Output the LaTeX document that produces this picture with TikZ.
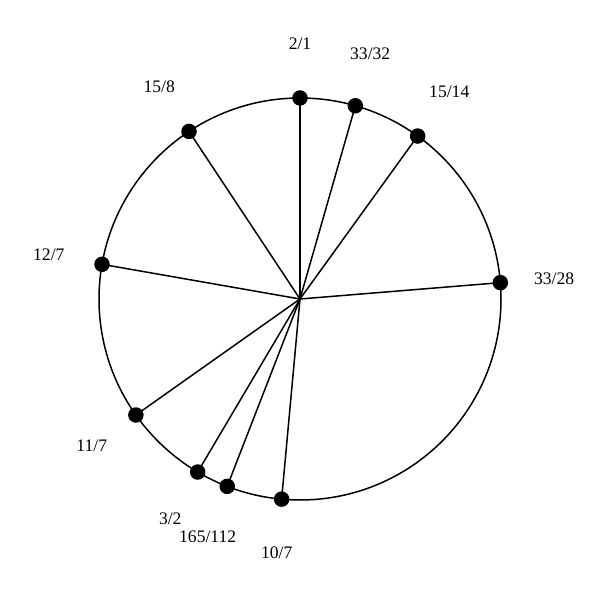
\documentclass[tikz,border=0pt]{standalone}
\usepackage{fontspec}
\setmainfont{Liberation Serif}
\usetikzlibrary{calc}
\begin{document}
\begin{tikzpicture}[x=1pt,y=1pt,
  spoke/.style={line width=1.5pt},
  dot/.style={circle,fill=black,inner sep=0pt,minimum size=15.5pt},
  lbl/.style={font=\fontsize{17.6}{20}\selectfont,anchor=center}]
\useasboundingbox (0,0) rectangle (600,600);
\coordinate (c) at (300,301);
\draw[spoke] (c) circle (201);
\foreach \n/\a/\t in {p1/90/2\slash 1, p2/74.018/33\slash 32, p3/54.167/15\slash 14, p4/4.666/33\slash 28, p5/-95.246/10\slash 7, p6/-111.229/165\slash 112, p7/-120.587/3\slash 2, p8/-144.748/11\slash 7, p9/-189.939/12\slash 7, p10/-236.481/15\slash 8}{
  \node[dot] (\n) at ($(c)+(\a:201)$) {};
  \draw[spoke] (c) -- (\n.center);
  \node[lbl] (\n l) at ($(c)+(\a:255)$) {\t};
}
\end{tikzpicture}
\end{document}
